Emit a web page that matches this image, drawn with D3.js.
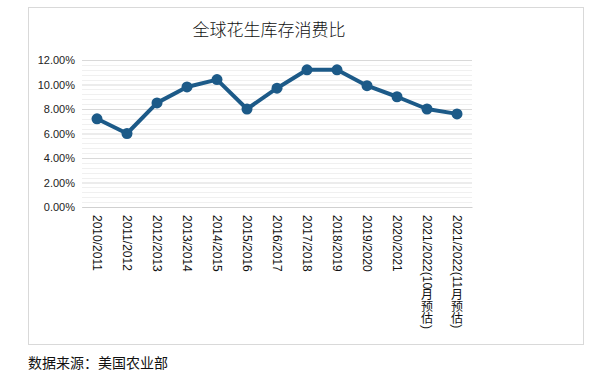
<!DOCTYPE html>
<html>
<head>
<meta charset="utf-8">
<script src="https://cdn.jsdelivr.net/npm/d3@7"></script>
<style>
  body { margin: 0; background: #fff; }
  text { font-family: "Liberation Sans", Arial, "Noto Sans CJK SC", sans-serif; }
</style>
</head>
<body>
<div id="chart"></div>
<script>
// data
var categories = ["2010/2011", "2011/2012", "2012/2013", "2013/2014", "2014/2015", "2015/2016",
  "2016/2017", "2017/2018", "2018/2019", "2019/2020", "2020/2021",
  "2021/2022(10月预估)", "2021/2022(11月预估)"];
var ratio = [7.2, 6.0, 8.5, 9.8, 10.4, 8.0, 9.7, 11.2, 11.2, 9.9, 9.0, 8.0, 7.6];
var yTicks = [0, 2, 4, 6, 8, 10, 12];

var width = 594, height = 375;
var plot = { left: 82, right: 472, top: 60, bottom: 207 };

var svg = d3.select("#chart").append("svg")
  .attr("width", width)
  .attr("height", height);

// outer frame
svg.append("rect")
  .attr("x", 28.5).attr("y", 7.5)
  .attr("width", 555).attr("height", 337)
  .attr("fill", "#fff")
  .attr("stroke", "#d9d9d9");

var x = d3.scaleBand()
  .domain(categories)
  .range([plot.left, plot.right]);

var y = d3.scaleLinear()
  .domain([0, 12])
  .range([plot.bottom, plot.top]);

// minor grid every 0.4%
var minor = d3.range(0, 12.01, 0.4).filter(function (v) { return Math.abs(v / 2 - Math.round(v / 2)) > 0.01; });
svg.append("g").selectAll("line")
  .data(minor)
  .join("line")
  .attr("x1", plot.left).attr("x2", plot.right)
  .attr("y1", function (d) { return Math.round(y(d)) + 0.5; })
  .attr("y2", function (d) { return Math.round(y(d)) + 0.5; })
  .attr("stroke", "#f0f0f0");

// major grid + labels
var yAxis = svg.append("g")
  .attr("transform", "translate(" + plot.left + ",0)")
  .call(d3.axisLeft(y).tickValues(yTicks).tickSize(-(plot.right - plot.left)).tickPadding(7)
    .tickFormat(function (d) { return d.toFixed(2) + "%"; }));
yAxis.select(".domain").remove();
yAxis.selectAll(".tick line").attr("stroke", "#d9d9d9");
yAxis.selectAll(".tick text").attr("font-size", "11px").attr("fill", "#222");

// x axis: latin runs rotated, CJK characters kept upright
var xAxis = svg.append("g")
  .attr("transform", "translate(0," + plot.bottom + ")")
  .call(d3.axisBottom(x).tickSize(0).tickFormat(""));
xAxis.select(".domain").attr("stroke", "#d0d0d0");

var fs = 12;
xAxis.selectAll(".tick").each(function (label) {
  var g = d3.select(this);
  g.selectAll("text").remove();
  var runs = label.match(/[\u4e00-\u9fff]|[^\u4e00-\u9fff]+/g);
  var cursor = 8;
  runs.forEach(function (r) {
    if (/[\u4e00-\u9fff]/.test(r)) {
      g.append("text")
        .attr("x", 0)
        .attr("y", cursor + fs * 0.86)
        .attr("text-anchor", "middle")
        .attr("font-size", fs + "px")
        .attr("fill", "#111")
        .style("font-family", "'Noto Sans CJK SC', sans-serif")
        .text(r);
      cursor += fs;
    } else {
      var t = g.append("text")
        .attr("transform", "translate(0," + cursor + ") rotate(90)")
        .attr("text-anchor", "start")
        .attr("dy", "0.35em")
        .attr("font-size", fs + "px")
        .attr("fill", "#111")
        .text(r);
      cursor += t.node().getComputedTextLength();
    }
  });
});

// line + markers
var cx = function (d, i) { return x(categories[i]) + x.bandwidth() / 2; };
var line = d3.line()
  .x(cx)
  .y(function (d) { return y(d); });

svg.append("path")
  .datum(ratio)
  .attr("d", line)
  .attr("fill", "none")
  .attr("stroke", "#1c5a88")
  .attr("stroke-width", 4)
  .attr("stroke-linejoin", "round");

svg.append("g").selectAll("circle")
  .data(ratio)
  .join("circle")
  .attr("cx", cx)
  .attr("cy", function (d) { return y(d); })
  .attr("r", 5.5)
  .attr("fill", "#1c5a88");

// title
svg.append("text")
  .attr("x", 269).attr("y", 36)
  .attr("text-anchor", "middle")
  .attr("font-size", "17px")
  .attr("fill", "#111")
  .style("font-family", "'Noto Sans CJK SC', sans-serif")
  .style("font-weight", 300)
  .text("全球花生库存消费比");

// source note
svg.append("text")
  .attr("x", 28).attr("y", 368)
  .attr("font-size", "14px")
  .attr("fill", "#111")
  .style("font-family", "'Noto Sans CJK SC', sans-serif")
  .text("数据来源：美国农业部");
</script>
</body>
</html>
